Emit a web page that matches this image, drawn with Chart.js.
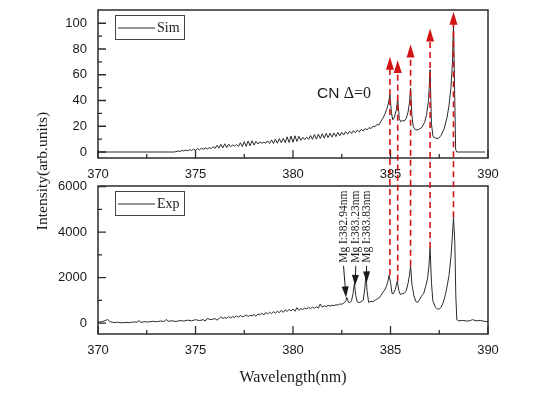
<!DOCTYPE html>
<html>
<head>
<meta charset="utf-8">
<script src="https://cdn.jsdelivr.net/npm/chart.js@4.4.1/dist/chart.umd.min.js"></script>
<style>
html, body { margin: 0; padding: 0; background: #fff; }
#wrap { position: relative; width: 554px; height: 401px; }
#wrap canvas { position: absolute; left: 0; top: 0; }
</style>
</head>
<body>
<div id="wrap">
    <canvas id="expChart" width="554" height="401"></canvas>
    <canvas id="simChart" width="554" height="401"></canvas>
</div>
<script>
// axis ticks
const xTicks = [370, 375, 380, 385, 390];
const simTicks = [0, 20, 40, 60, 80, 100];
const expTicks = [0, 2000, 4000, 6000];

// simulated CN spectrum
const simWl = [370, 373.9, 374.0,
    374.1, 374.2, 374.3, 374.4, 374.5, 374.6, 374.7, 374.8, 374.9, 375.0,
    375.1, 375.2, 375.3, 375.4, 375.5, 375.6, 375.7, 375.8, 375.9, 376.0,
    376.1, 376.2, 376.3, 376.4, 376.5, 376.6, 376.7, 376.8, 376.9, 377.0,
    377.1, 377.2, 377.3, 377.4, 377.5, 377.6, 377.7, 377.8, 377.9, 378.0,
    378.1, 378.2, 378.3, 378.4, 378.5, 378.6, 378.7, 378.8, 378.9, 379.0,
    379.1, 379.2, 379.3, 379.4, 379.5, 379.6, 379.7, 379.8, 379.9, 380.0,
    380.1, 380.2, 380.3, 380.4, 380.5, 380.6, 380.7, 380.8, 380.9, 381.0,
    381.1, 381.2, 381.3, 381.4, 381.5, 381.6, 381.7, 381.8, 381.9, 382.0,
    382.1, 382.2, 382.3, 382.4, 382.5, 382.6, 382.7, 382.8, 382.9, 383.0,
    383.1, 383.2, 383.3, 383.4, 383.5, 383.6, 383.7, 383.8, 383.9, 384.0,
    384.1, 384.2, 384.3, 384.4, 384.5, 384.6, 384.7, 384.8, 384.9, 384.97,
    385.05, 385.12, 385.2, 385.3, 385.37, 385.45, 385.52, 385.6, 385.7, 385.8,
    385.9, 385.97, 386.03, 386.1, 386.17, 386.3, 386.45, 386.6, 386.75, 386.85,
    386.95, 387.03, 387.1, 387.18, 387.3, 387.45, 387.6, 387.75, 387.9, 388.0,
    388.1, 388.18, 388.23, 388.28, 388.34, 388.4, 389.85];
const simInt = [0, 0, 0.3,
    0.8, 0.4, 1.2, 0.8, 1.5, 1.0, 1.8, 1.2, 2.2, 1.4,
    2.8, 1.6, 3.0, 2.0, 3.2, 2.4, 3.4, 2.6, 4.2, 2.8,
    5.2, 3.0, 6.0, 3.2, 6.4, 3.4, 6.2, 4.0, 5.6, 4.6,
    5.8, 4.4, 7.2, 4.2, 8.0, 4.4, 8.6, 4.8, 8.8, 5.4,
    8.4, 6.2, 7.8, 6.8, 7.6, 6.8, 8.6, 6.6, 9.4, 6.6,
    10.0, 6.8, 10.4, 7.2, 10.6, 7.4, 11.8, 7.4, 12.4, 7.6,
    12.6, 8.2, 12.2, 9.0, 11.4, 9.6, 11.6, 9.8, 12.8, 9.8,
    13.6, 10.0, 14.0, 10.4, 14.2, 10.8, 14.4, 11.2, 14.6, 11.6,
    14.8, 12.0, 15.2, 12.6, 15.4, 13.2, 15.8, 13.8, 16.2, 14.4,
    16.6, 15.0, 17.0, 15.6, 17.6, 16.4, 18.2, 17.2, 19.0, 18.2,
    20.0, 19.6, 21.4, 21.0, 23.5, 26, 29, 33, 38, 45,
    30, 25, 27, 33, 41.5, 26, 23.5, 24.5, 24, 26,
    31, 38, 49.5, 28, 19.5, 17, 17.5, 19, 23, 29,
    40, 64, 22, 12, 10.8, 10.5, 13, 18, 27, 36,
    50, 70, 100, 55, 2, 0, 0];

// measured spectrum
const expWl = [370.0, 370.2, 370.4, 370.5, 370.6, 370.8, 371.0, 371.2, 371.4, 371.6,
    371.8, 372.0, 372.1, 372.2, 372.4, 372.6, 372.8, 373.0, 373.2, 373.4,
    373.5, 373.6, 373.8, 374.0, 374.2, 374.4, 374.6, 374.8, 375.0, 375.2,
    375.4, 375.5, 375.6, 375.8, 376.0, 376.1, 376.2, 376.3, 376.4, 376.5,
    376.6, 376.7, 376.8, 376.9, 377.0, 377.1, 377.2, 377.3, 377.4, 377.5,
    377.6, 377.7, 377.8, 377.9, 378.0, 378.1, 378.2, 378.3, 378.4, 378.5,
    378.6, 378.7, 378.8, 378.9, 379.0, 379.1, 379.2, 379.3, 379.4, 379.5,
    379.6, 379.7, 379.8, 379.9, 380.0, 380.1, 380.2, 380.3, 380.4, 380.5,
    380.6, 380.7, 380.8, 380.9, 381.0, 381.1, 381.2, 381.3, 381.4, 381.5,
    381.6, 381.7, 381.8, 381.9, 382.0, 382.1, 382.2, 382.3, 382.4, 382.5,
    382.6, 382.7, 382.76, 382.85, 382.92, 383.0, 383.08, 383.15, 383.22, 383.3,
    383.4, 383.5, 383.6, 383.68, 383.74, 383.8, 383.88, 384.0, 384.1, 384.2,
    384.3, 384.4, 384.5, 384.6, 384.7, 384.8, 384.87, 384.93, 385.0, 385.08,
    385.15, 385.25, 385.35, 385.42, 385.5, 385.6, 385.7, 385.8, 385.9, 385.97,
    386.03, 386.1, 386.2, 386.3, 386.4, 386.5, 386.6, 386.7, 386.8, 386.9,
    386.97, 387.03, 387.1, 387.17, 387.3, 387.4, 387.5, 387.6, 387.7, 387.8,
    387.9, 388.0, 388.1, 388.17, 388.23, 388.3, 388.35, 388.4, 388.5, 388.7,
    388.9, 389.1, 389.2, 389.4, 389.6, 389.8, 390.0];
const expInt = [40, 60, 120, 160, 70, 20, 40, 10, 30, 20,
    50, 40, 110, 30, 60, 50, 80, 60, 90, 70,
    160, 80, 100, 70, 110, 90, 130, 100, 150, 110,
    150, 90, 200, 150, 200, 130, 190, 280, 200, 240,
    210, 290, 230, 280, 250, 320, 260, 330, 280, 300,
    360, 290, 340, 310, 380, 300, 400, 360, 440, 350,
    470, 400, 480, 420, 500, 440, 520, 460, 560, 470,
    580, 520, 600, 530, 620, 520, 680, 560, 640, 600,
    660, 620, 690, 640, 700, 650, 720, 660, 840, 700,
    760, 720, 780, 740, 790, 760, 810, 790, 840, 830,
    880, 950, 1130, 920, 900, 980, 1300, 1750, 1200, 930,
    900, 950, 1000, 1500, 2150, 1400, 910, 960, 940, 1000,
    1050, 1100, 1200, 1340, 1450, 1640, 1850, 2110, 1800, 1300,
    1300, 1500, 1860, 1450, 1260, 1290, 1320, 1400, 1750, 2100,
    2520, 1700, 1200, 950, 910, 1050, 1200, 1300, 1600, 1950,
    2500, 3300, 1800, 980, 700, 620, 620, 700, 900, 1200,
    1600, 2100, 2900, 3800, 4650, 3500, 1200, 150, 100, 120,
    90, 110, 150, 100, 120, 80, 60];

// red arrows: band heads, from the measured peak up to the simulated one
const headWl = [384.97, 385.37, 386.03, 387.03, 388.23];
const headExp = [2110, 1860, 2520, 3300, 4650];
const headSim = [74, 71.5, 83.5, 96, 109];

// Mg I lines: label, label position, arrow tip
const mgLabels = ['Mg I:382.94nm', 'Mg I:383.23nm', 'Mg I:383.83nm'];
const mgLabelWl = [382.59, 383.22, 383.77];
const mgTipWl = [382.72, 383.18, 383.78];
const mgTipExp = [1130, 1640, 1790];

const sans = '"Liberation Sans", Arial, sans-serif';
const serif = '"Liberation Serif", "Times New Roman", serif';
const ink = '#2b2b2b';

function toPoints(xs, ys) {
    return xs.map(function (x, i) { return { x: x, y: ys[i] }; });
}

function setTicks(list) {
    return function (scale) {
        scale.ticks = list.map(function (v) { return { value: v }; });
    };
}

// box round the plot and inward tick marks
const framePlugin = {
    id: 'frame',
    afterDraw: function (chart) {
        const ctx = chart.ctx;
        const a = chart.chartArea;
        const x = chart.scales.x;
        const y = chart.scales.y;
        const yList = chart.options.yTickList;
        ctx.save();
        ctx.strokeStyle = ink;
        ctx.lineWidth = 1.5;
        ctx.strokeRect(a.left, a.top, a.right - a.left, a.bottom - a.top);
        ctx.lineWidth = 1.3;
        ctx.beginPath();
        xTicks.forEach(function (v, i) {
            const px = x.getPixelForValue(v);
            ctx.moveTo(px, a.bottom);
            ctx.lineTo(px, a.bottom - 8);
            if (i < xTicks.length - 1) {
                const m = x.getPixelForValue((v + xTicks[i + 1]) / 2);
                ctx.moveTo(m, a.bottom);
                ctx.lineTo(m, a.bottom - 4);
            }
        });
        yList.forEach(function (v, i) {
            const py = y.getPixelForValue(v);
            ctx.moveTo(a.left, py);
            ctx.lineTo(a.left + 8, py);
            if (i < yList.length - 1) {
                const m = y.getPixelForValue((v + yList[i + 1]) / 2);
                ctx.moveTo(a.left, m);
                ctx.lineTo(a.left + 4, m);
            }
        });
        ctx.stroke();
        ctx.restore();
    }
};

// boxed legend in the upper left corner
const legendPlugin = {
    id: 'boxLegend',
    afterDraw: function (chart) {
        const ctx = chart.ctx;
        const a = chart.chartArea;
        const left = a.left + 17;
        const top = a.top + 5;
        ctx.save();
        ctx.strokeStyle = '#444';
        ctx.lineWidth = 1;
        ctx.strokeRect(left + 0.5, top + 0.5, 69, 24);
        ctx.strokeStyle = ink;
        ctx.beginPath();
        ctx.moveTo(left + 3, top + 13);
        ctx.lineTo(left + 40, top + 13);
        ctx.stroke();
        ctx.fillStyle = '#222';
        ctx.font = '14px ' + serif;
        ctx.textBaseline = 'middle';
        ctx.fillText(chart.data.datasets[0].label, left + 42, top + 13);
        ctx.restore();
    }
};

function baseOptions(yMin, yMax, yList, pad) {
    return {
        responsive: false,
        animation: false,
        yTickList: yList,
        layout: { padding: pad },
        plugins: { legend: { display: false }, tooltip: { enabled: false } },
        scales: {
            x: {
                type: 'linear',
                min: 370,
                max: 390,
                afterBuildTicks: setTicks(xTicks),
                grid: { display: false, drawTicks: false },
                border: { display: false },
                ticks: {
                    padding: 9,
                    maxRotation: 0,
                    color: '#1a1a1a',
                    font: { family: sans, size: 13 },
                    callback: function (v) { return String(v); }
                }
            },
            y: {
                min: yMin,
                max: yMax,
                afterBuildTicks: setTicks(yList),
                afterFit: function (scale) {
                    scale.width = 60;
                    scale.paddingTop = 0;
                    scale.paddingBottom = 0;
                },
                grid: { display: false, drawTicks: false },
                border: { display: false },
                ticks: {
                    padding: 11,
                    color: '#1a1a1a',
                    font: { family: sans, size: 13 },
                    callback: function (v) { return String(v); }
                }
            }
        }
    };
}

function fixX(height) {
    return function (scale) {
        scale.height = height;
        scale.paddingLeft = 0;
        scale.paddingRight = 0;
    };
}

// lower panel
const expOptions = baseOptions(-480, 6030, expTicks, { left: 38, right: 66, top: 186, bottom: 14 });
expOptions.scales.x.afterFit = fixX(53);
expOptions.scales.x.title = {
    display: true,
    text: 'Wavelength(nm)',
    color: '#1a1a1a',
    padding: 0,
    font: { family: serif, size: 16 }
};

const expChart = new Chart(document.getElementById('expChart'), {
    type: 'line',
    data: {
        datasets: [{
            label: 'Exp',
            data: toPoints(expWl, expInt),
            borderColor: ink,
            borderWidth: 1,
            pointRadius: 0,
            tension: 0
        }]
    },
    options: expOptions,
    plugins: [framePlugin, legendPlugin, {
        id: 'mgLines',
        afterDraw: function (chart) {
            const ctx = chart.ctx;
            const x = chart.scales.x;
            const y = chart.scales.y;
            const textBottom = y.getPixelForValue(2650);
            ctx.save();
            ctx.fillStyle = '#1a1a1a';
            ctx.strokeStyle = '#1a1a1a';
            ctx.lineWidth = 1;
            mgLabels.forEach(function (label, i) {
                const lx = x.getPixelForValue(mgLabelWl[i]);
                ctx.save();
                ctx.translate(lx, textBottom);
                ctx.rotate(-Math.PI / 2);
                ctx.font = '11.5px ' + serif;
                ctx.textBaseline = 'middle';
                ctx.textAlign = 'left';
                ctx.fillText(label, 0, 0);
                ctx.restore();

                const tx = x.getPixelForValue(mgTipWl[i]);
                const ty = y.getPixelForValue(mgTipExp[i]);
                const sy = textBottom + 3;
                const ang = Math.atan2(ty - sy, tx - lx);
                ctx.beginPath();
                ctx.moveTo(lx, sy);
                ctx.lineTo(tx - 9 * Math.cos(ang), ty - 9 * Math.sin(ang));
                ctx.stroke();
                ctx.beginPath();
                ctx.moveTo(tx, ty);
                ctx.lineTo(tx - 11 * Math.cos(ang) + 3.5 * Math.sin(ang), ty - 11 * Math.sin(ang) - 3.5 * Math.cos(ang));
                ctx.lineTo(tx - 11 * Math.cos(ang) - 3.5 * Math.sin(ang), ty - 11 * Math.sin(ang) + 3.5 * Math.cos(ang));
                ctx.closePath();
                ctx.fill();
            });
            ctx.restore();
        }
    }]
});

// upper panel, drawn over the lower one on a transparent canvas
const simOptions = baseOptions(-4.65, 110.3, simTicks, { left: 38, right: 66, top: 10, bottom: 213 });
simOptions.scales.x.afterFit = fixX(30);

new Chart(document.getElementById('simChart'), {
    type: 'line',
    data: {
        datasets: [{
            label: 'Sim',
            data: toPoints(simWl, simInt),
            borderColor: ink,
            borderWidth: 1,
            pointRadius: 0,
            tension: 0
        }]
    },
    options: simOptions,
    plugins: [framePlugin, legendPlugin, {
        id: 'overlay',
        afterDraw: function (chart) {
            const ctx = chart.ctx;
            const x = chart.scales.x;
            const y = chart.scales.y;
            const ey = expChart.scales.y;
            ctx.save();

            // CN label
            ctx.fillStyle = '#1a1a1a';
            ctx.textBaseline = 'middle';
            const cx = x.getPixelForValue(381.23);
            const cy = y.getPixelForValue(45.2);
            ctx.font = '15.5px ' + sans;
            ctx.fillText('CN', cx, cy);
            const w = ctx.measureText('CN ').width;
            ctx.font = '16px ' + serif;
            ctx.fillText('Δ=0', cx + w, cy);

            // shared y title
            ctx.save();
            ctx.translate(43, 171);
            ctx.rotate(-Math.PI / 2);
            ctx.textAlign = 'center';
            ctx.font = '15.5px ' + serif;
            ctx.fillText('Intensity(arb.units)', 0, 0);
            ctx.restore();

            // red dashed arrows
            ctx.strokeStyle = '#d21414';
            ctx.fillStyle = '#d21414';
            ctx.lineWidth = 1.6;
            headWl.forEach(function (wl, i) {
                const px = x.getPixelForValue(wl);
                const y0 = ey.getPixelForValue(headExp[i]);
                const y1 = y.getPixelForValue(headSim[i]);
                ctx.setLineDash([6, 4]);
                ctx.beginPath();
                ctx.moveTo(px, y0);
                ctx.lineTo(px, y1 + 12);
                ctx.stroke();
                ctx.setLineDash([]);
                ctx.beginPath();
                ctx.moveTo(px, y1);
                ctx.lineTo(px - 4, y1 + 13);
                ctx.lineTo(px + 4, y1 + 13);
                ctx.closePath();
                ctx.fill();
            });
            ctx.restore();
        }
    }]
});
</script>
</body>
</html>
